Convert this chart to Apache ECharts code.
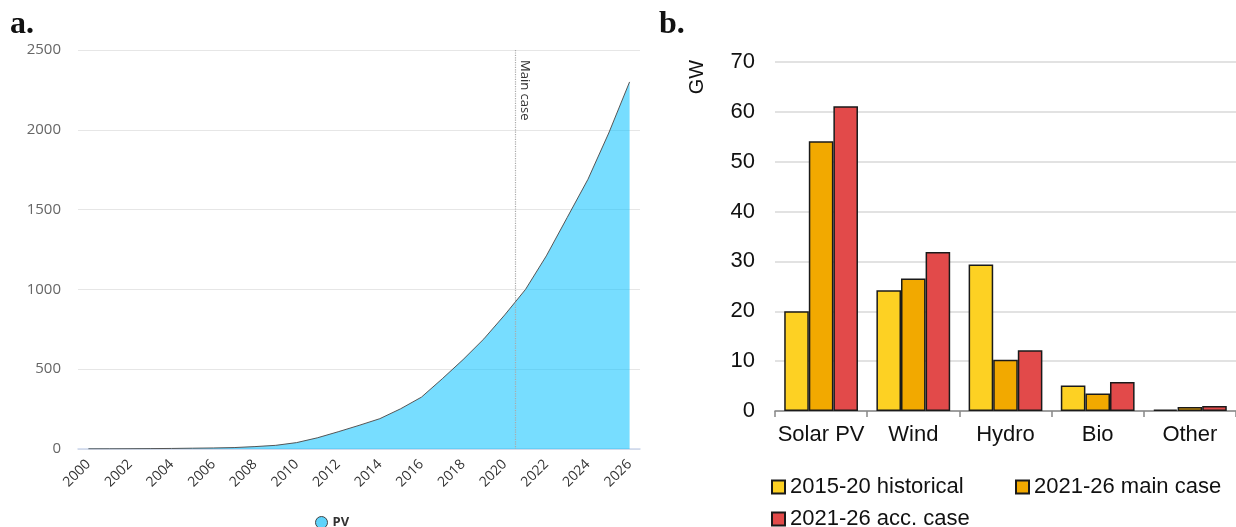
<!DOCTYPE html>
<html>
<head>
<meta charset="utf-8">
<script src="https://cdn.jsdelivr.net/npm/echarts@6/dist/echarts.min.js"></script>
<style>
html,body{margin:0;padding:0;background:#fff;}
#chart{width:1236px;height:527px;}
</style>
</head>
<body>
<div id="chart"></div>
<script>
// Panel a: cumulative PV capacity (GW)
const years = [2000,2001,2002,2003,2004,2005,2006,2007,2008,2009,2010,2011,2012,2013,2014,2015,2016,2017,2018,2019,2020,2021,2022,2023,2024,2025,2026];
const pvValues = [1,1.3,1.8,2.5,3.5,5,6.5,9,15,23,40,70,108,148,190,252,325,440,560,690,840,1000,1210,1450,1690,1980,2300];
const yearLabels = [2000,2002,2004,2006,2008,2010,2012,2014,2016,2018,2020,2022,2024,2026];
const mainCaseYear = 2020.5;

// Panel b: annual additions (GW)
const categoriesB = ['Solar PV','Wind','Hydro','Bio','Other'];
const hist2015_20 = [20,24.2,29.4,5.1,0.3];
const main2021_26 = [54.1,26.6,10.3,3.5,0.8];
const acc2021_26 = [61.1,31.9,12.2,5.8,1.0];

const chart = echarts.init(document.getElementById('chart'), null, {renderer:'canvas'});

const barBorder = {borderColor:'#1a1a1a', borderWidth:1.5};
const sansB = '"Liberation Sans", Arial, sans-serif';
const sansA = '"Open Sans", sans-serif';

chart.setOption({
  animation:false,
  backgroundColor:'#fff',
  legend:[
    {data:['PV'], left:310, top:511, icon:'circle', itemWidth:12, itemHeight:12,
     itemStyle:{borderColor:'#444', borderWidth:1},
     textStyle:{fontFamily:sansA, fontSize:13, fontWeight:'bold', color:'#333'}},
    {data:['2015-20 historical'], left:766, top:471, icon:'rect', itemWidth:13, itemHeight:13,
     textStyle:{fontFamily:sansB, fontSize:22, color:'#111'}},
    {data:['2021-26 main case'], left:1010, top:471, icon:'rect', itemWidth:13, itemHeight:13,
     textStyle:{fontFamily:sansB, fontSize:22, color:'#111'}},
    {data:['2021-26 acc. case'], left:766, top:503, icon:'rect', itemWidth:13, itemHeight:13,
     textStyle:{fontFamily:sansB, fontSize:22, color:'#111'}}
  ],
  grid:[
    {left:78, width:562, top:50, height:399},
    {left:775, width:461, top:62, height:349}
  ],
  xAxis:[
    {type:'value', gridIndex:0, min:1999.5, max:2026.5,
     axisLine:{show:true, lineStyle:{color:'#ccd6eb', width:1.5}},
     axisTick:{show:false},
     splitLine:{show:false},
     axisLabel:{customValues:yearLabels, rotate:45, margin:13, color:'#333',
       fontFamily:sansA, fontSize:14, formatter:v=>String(v)}},
    {type:'category', gridIndex:1, data:categoriesB,
     axisLine:{show:true, lineStyle:{color:'#888', width:1.5}},
     axisTick:{show:true, interval:0, alignWithLabel:false, length:6, lineStyle:{color:'#888', width:1.5}},
     axisLabel:{interval:0, color:'#111', fontFamily:sansB, fontSize:22, margin:13}}
  ],
  yAxis:[
    {type:'value', gridIndex:0, min:0, max:2500, interval:500,
     axisLine:{show:false}, axisTick:{show:false},
     splitLine:{lineStyle:{color:'#e6e6e6', width:1}},
     axisLabel:{color:'#666', fontFamily:sansA, fontSize:15, margin:17, formatter:v=>String(v)}},
    {type:'value', gridIndex:1, min:0, max:70, interval:10,
     axisLine:{show:false}, axisTick:{show:false},
     splitLine:{lineStyle:{color:'#d9d9d9', width:1.5}},
     axisLabel:{color:'#111', fontFamily:sansB, fontSize:22, margin:20}}
  ],
  series:[
    {name:'PV', type:'line', xAxisIndex:0, yAxisIndex:0,
     data:years.map((y,i)=>[y,pvValues[i]]),
     symbol:'none', smooth:false,
     itemStyle:{color:'#5fd3fb'},
     lineStyle:{color:'#555', width:1},
     areaStyle:{color:'rgba(8,193,255,0.55)', opacity:1},
     markLine:{silent:true, symbol:'none',
       lineStyle:{color:'#aaa', type:'dotted', width:1.2},
       label:{show:false},
       data:[[{coord:[mainCaseYear,2500]},{coord:[mainCaseYear,0]}]]}},
    {name:'2015-20 historical', type:'bar', xAxisIndex:1, yAxisIndex:1, data:hist2015_20,
     barGap:'0%', barCategoryGap:'20%', itemStyle:Object.assign({color:'#fdd123'}, barBorder)},
    {name:'2021-26 main case', type:'bar', xAxisIndex:1, yAxisIndex:1, data:main2021_26,
     barGap:'0%', barCategoryGap:'20%', itemStyle:Object.assign({color:'#f2a900'}, barBorder)},
    {name:'2021-26 acc. case', type:'bar', xAxisIndex:1, yAxisIndex:1, data:acc2021_26,
     barGap:'0%', barCategoryGap:'20%', itemStyle:Object.assign({color:'#e24a4a'}, barBorder)}
  ]
});

// Text annotations; "Main case" label is placed from the axis scale
const mcTop = chart.convertToPixel({xAxisIndex:0, yAxisIndex:0}, [mainCaseYear, 2500]);
chart.setOption({
  graphic:[
    {type:'text', x:10, y:25, style:{text:'a.', font:'bold 32px "Liberation Serif", "DejaVu Serif", serif', fill:'#111', verticalAlign:'middle'}},
    {type:'text', x:659, y:25, style:{text:'b.', font:'bold 32px "Liberation Serif", "DejaVu Serif", serif', fill:'#111', verticalAlign:'middle'}},
    {type:'text', x:697, y:77, rotation:Math.PI/2, style:{text:'GW', font:'20px "Liberation Sans", Arial, sans-serif', fill:'#111', align:'center', verticalAlign:'middle'}},
    {type:'text', x:mcTop[0] + 3, y:mcTop[1] + 10, rotation:-Math.PI/2, style:{text:'Main case', font:'13px "Open Sans", sans-serif', fill:'#333', align:'left', verticalAlign:'bottom'}}
  ]
});
</script>
</body>
</html>
